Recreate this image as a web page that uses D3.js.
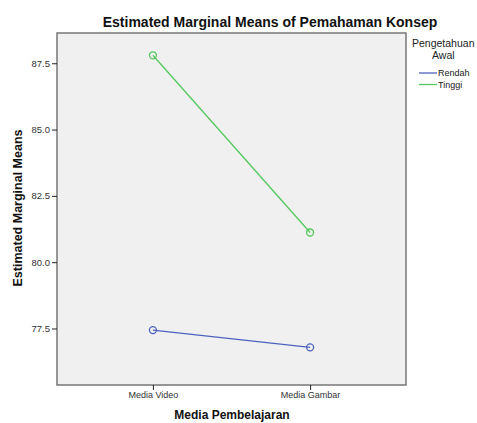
<!DOCTYPE html>
<html><head><meta charset="utf-8">
<script src="https://cdn.jsdelivr.net/npm/d3@7"></script>
<style>body{margin:0;background:#fff}svg{display:block}text{font-family:"Liberation Sans",Arial,sans-serif}</style>
</head><body>
<svg id="c" width="477" height="423"></svg>
<script>
const categories = ["Media Video", "Media Gambar"];
const seriesNames = ["Rendah", "Tinggi"];
const rendahValues = [77.44, 76.79];
const tinggiValues = [87.80, 81.12];
const yTicks = [77.5, 80.0, 82.5, 85.0, 87.5];
const colors = ["#4f62bd", "#55c85f"];

const svg = d3.select("#c");
const L = 57, R = 406, T = 33, B = 385;
const x = d3.scalePoint().domain(categories).range([L, R]).padding(0.61);
const y = d3.scaleLinear().domain([75.37, 88.64]).range([B, T]);

svg.append("rect").attr("x", L).attr("y", T).attr("width", R - L).attr("height", B - T)
  .attr("fill", "#f0f0f0").attr("stroke", "#777").attr("stroke-width", 1.5);

const ya = svg.append("g").attr("transform", `translate(${L},0)`)
  .call(d3.axisLeft(y).tickValues(yTicks).tickFormat(d3.format(".1f")).tickSize(5).tickPadding(2));
ya.select(".domain").remove();
ya.selectAll("line").attr("stroke", "#222");
ya.selectAll("text").attr("font-size", 9.5).attr("fill", "#333");

const xa = svg.append("g").attr("transform", `translate(0,${B})`)
  .call(d3.axisBottom(x).tickSize(5).tickPadding(2));
xa.select(".domain").remove();
xa.selectAll("line").attr("stroke", "#222");
xa.selectAll("text").attr("font-size", 9).attr("fill", "#333");

const series = [rendahValues, tinggiValues];
const line = d3.line().x((d, i) => x(categories[i])).y(d => y(d));
series.forEach((vals, s) => {
  svg.append("path").attr("d", line(vals)).attr("fill", "none").attr("stroke", colors[s]).attr("stroke-width", 1.3);
  svg.selectAll(null).data(vals).enter().append("circle")
    .attr("cx", (d, i) => x(categories[i])).attr("cy", d => y(d)).attr("r", 3.5)
    .attr("fill", "none").attr("stroke", colors[s]).attr("stroke-width", 1.3);
});

svg.append("text").attr("x", 270).attr("y", 27).attr("text-anchor", "middle")
  .attr("font-size", 14).attr("font-weight", "bold").attr("fill", "#111").text("Estimated Marginal Means of Pemahaman Konsep");
svg.append("text").attr("transform", "translate(22,208) rotate(-90)").attr("text-anchor", "middle")
  .attr("font-size", 12.5).attr("font-weight", "bold").attr("fill", "#111").text("Estimated Marginal Means");
svg.append("text").attr("x", 232).attr("y", 419).attr("text-anchor", "middle")
  .attr("font-size", 12).attr("font-weight", "bold").attr("fill", "#111").text("Media Pembelajaran");

svg.append("text").attr("x", 412).attr("y", 47).attr("font-size", 10.5).attr("fill", "#222").text("Pengetahuan");
svg.append("text").attr("x", 432).attr("y", 59).attr("font-size", 10.5).attr("fill", "#222").text("Awal");
seriesNames.forEach((n, i) => {
  const yy = 73 + i * 11.5;
  svg.append("line").attr("x1", 419).attr("x2", 437).attr("y1", yy).attr("y2", yy).attr("stroke", colors[i]).attr("stroke-width", 1.3);
  svg.append("text").attr("x", 438).attr("y", yy + 3).attr("font-size", 9).attr("fill", "#222").text(n);
});
</script>
</body></html>
